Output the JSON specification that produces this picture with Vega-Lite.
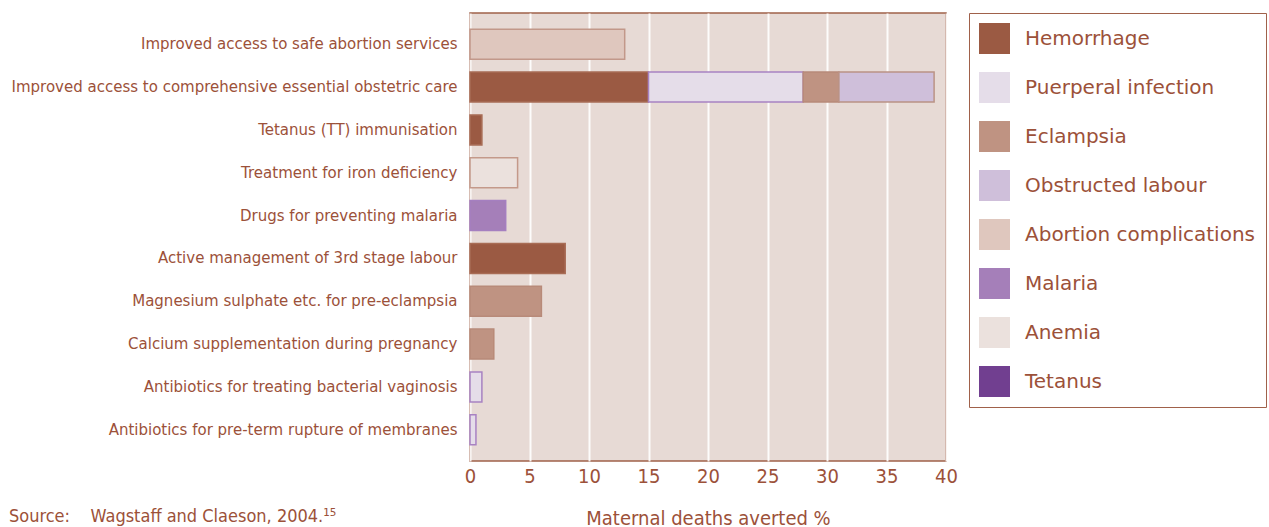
{
  "$schema": "https://vega.github.io/schema/vega-lite/v6.json",
  "autosize": "none",
  "width": 476,
  "height": 448,
  "padding": {"left": 470, "top": 13, "right": 323, "bottom": 66},
  "background": "#ffffff",
  "config": {
    "view": {"fill": "#e7dad5", "stroke": "#a0614a", "strokeWidth": 1.5},
    "font": "DejaVu Sans"
  },
  "title": {
    "text": "Source:\u00a0\u00a0\u00a0\u00a0Wagstaff and Claeson, 2004.¹⁵",
    "orient": "bottom",
    "anchor": "start",
    "frame": "group",
    "dx": -461,
    "dy": -20,
    "offset": 0,
    "font": "DejaVu Sans Condensed",
    "fontSize": 18,
    "fontWeight": "normal",
    "color": "#9c5139"
  },
  "data": {
    "values": [
      {"intervention": "Improved access to safe abortion services", "cause": "Abortion complications", "value": 13, "k": 1},
      {"intervention": "Improved access to comprehensive essential obstetric care", "cause": "Hemorrhage", "value": 15, "k": 1},
      {"intervention": "Improved access to comprehensive essential obstetric care", "cause": "Puerperal infection", "value": 13, "k": 2},
      {"intervention": "Improved access to comprehensive essential obstetric care", "cause": "Eclampsia", "value": 3, "k": 3},
      {"intervention": "Improved access to comprehensive essential obstetric care", "cause": "Obstructed labour", "value": 8, "k": 4},
      {"intervention": "Tetanus (TT) immunisation", "cause": "Hemorrhage", "value": 1, "k": 1},
      {"intervention": "Treatment for iron deficiency", "cause": "Anemia", "value": 4, "k": 1},
      {"intervention": "Drugs for preventing malaria", "cause": "Malaria", "value": 3, "k": 1},
      {"intervention": "Active management of 3rd stage labour", "cause": "Hemorrhage", "value": 8, "k": 1},
      {"intervention": "Magnesium sulphate etc. for pre-eclampsia", "cause": "Eclampsia", "value": 6, "k": 1},
      {"intervention": "Calcium supplementation during pregnancy", "cause": "Eclampsia", "value": 2, "k": 1},
      {"intervention": "Antibiotics for treating bacterial vaginosis", "cause": "Puerperal infection", "value": 1, "k": 1},
      {"intervention": "Antibiotics for pre-term rupture of membranes", "cause": "Puerperal infection", "value": 0.5, "k": 1}
    ]
  },
  "mark": {"type": "bar", "strokeWidth": 1.5},
  "encoding": {
    "y": {
      "field": "intervention",
      "type": "nominal",
      "sort": null,
      "scale": {"paddingInner": 0.3, "paddingOuter": 0.38},
      "axis": {
        "title": null,
        "domain": false,
        "ticks": false,
        "labelPadding": 13,
        "labelFont": "DejaVu Sans",
        "labelFontSize": 15,
        "labelColor": "#9c5139",
        "labelLimit": 500,
        "grid": false
      }
    },
    "x": {
      "field": "value",
      "type": "quantitative",
      "stack": "zero",
      "scale": {"domain": [0, 40], "nice": false},
      "axis": {
        "title": "Maternal deaths averted %",
        "titleFontSize": 20,
        "titleFontWeight": "normal",
        "titleColor": "#9c5139",
        "titleFont": "DejaVu Sans Condensed",
        "titlePadding": 22,
        "values": [0, 5, 10, 15, 20, 25, 30, 35, 40],
        "labelFont": "DejaVu Sans Condensed",
        "labelFontSize": 20,
        "labelFlush": false,
        "labelColor": "#9c5139",
        "labelPadding": 5,
        "domain": false,
        "ticks": false,
        "grid": true,
        "gridColor": "#ffffff",
        "gridWidth": 2,
        "gridOpacity": 0.9
      }
    },
    "order": {"field": "k", "type": "quantitative"},
    "color": {
      "field": "cause",
      "type": "nominal",
      "scale": {
        "domain": ["Hemorrhage", "Puerperal infection", "Eclampsia", "Obstructed labour", "Abortion complications", "Malaria", "Anemia", "Tetanus"],
        "range": ["#9b5a43", "#e5dde9", "#bf9382", "#cfbfda", "#dfc7be", "#a57fb9", "#ebe1dd", "#713f90"]
      },
      "legend": {
        "title": null,
        "orient": "none",
        "legendX": 499,
        "legendY": 0,
        "symbolType": "square",
        "symbolSize": 961,
        "symbolStrokeWidth": 0,
        "symbolOpacity": 1,
        "labelFont": "DejaVu Sans",
        "labelFontSize": 20,
        "labelColor": "#9c5139",
        "labelOffset": 15,
        "labelLimit": 400,
        "rowPadding": 18,
        "padding": 10,
        "strokeColor": "#a0614a",
        "fillColor": "#ffffff"
      }
    },
    "stroke": {
      "field": "cause",
      "type": "nominal",
      "scale": {
        "domain": ["Hemorrhage", "Puerperal infection", "Eclampsia", "Obstructed labour", "Abortion complications", "Malaria", "Anemia", "Tetanus"],
        "range": ["#a86c55", "#a882c2", "#b88a79", "#bb9385", "#c2988a", "#a57fc0", "#c4998a", "#713f90"]
      },
      "legend": null
    }
  }
}
